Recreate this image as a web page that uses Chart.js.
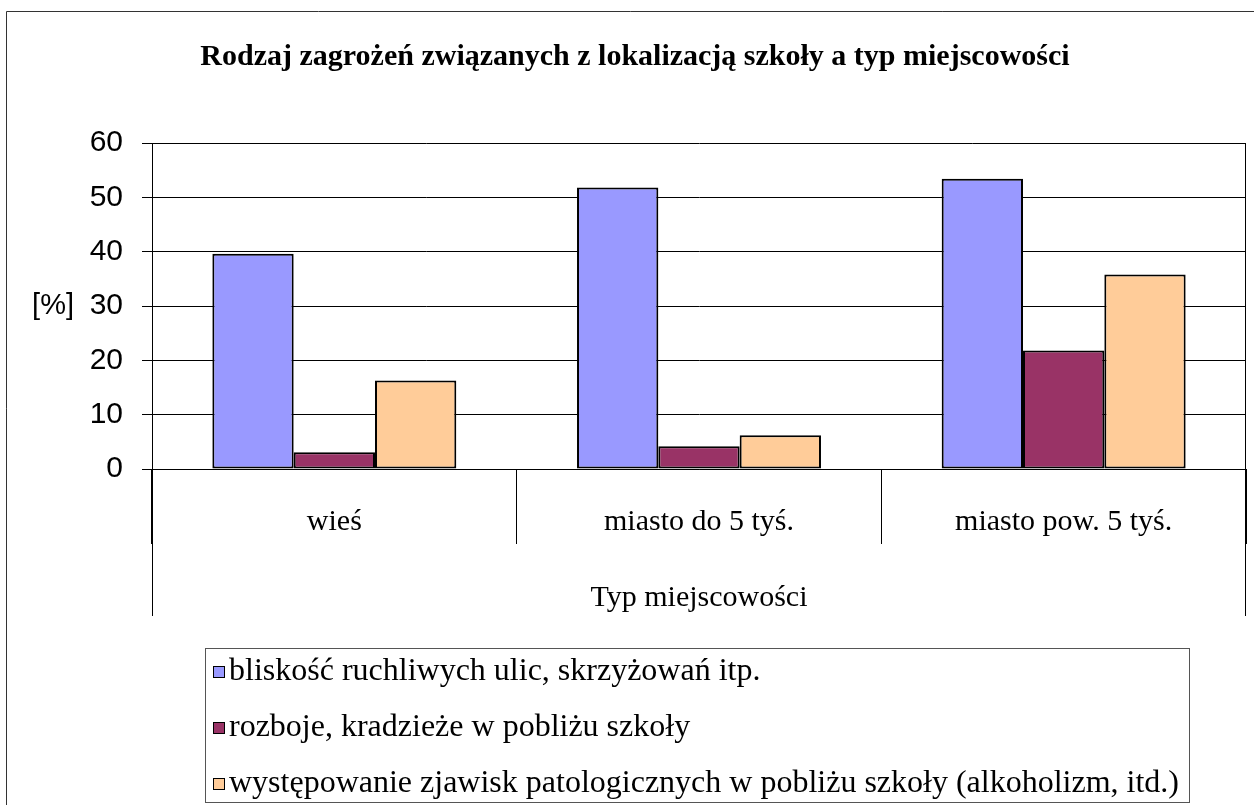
<!DOCTYPE html>
<html>
<head>
<meta charset="utf-8">
<script src="https://cdn.jsdelivr.net/npm/chart.js@4/dist/chart.umd.min.js"></script>
<style>
  body { margin: 0; background: #fff; }
  #wrap { position: relative; width: 1254px; height: 805px; background: #fff; }
  #legend {
    position: absolute; left: 205px; top: 648px; width: 985px; height: 155px;
    box-sizing: border-box; border: 1px solid #555; padding-left: 7px;
    font: 32px "Liberation Serif", serif; color: #000;
  }
  #legend .item { height: 56px; display: flex; align-items: center; white-space: nowrap; }
  #legend .item:first-child { margin-top: -8px; }
  #legend .swatch {
    display: inline-block; width: 10px; height: 10px; border: 1.5px solid #000;
    margin-right: 4px; transform: translateY(3px);
  }
</style>
</head>
<body>
<div id="wrap">
  <canvas id="chart"></canvas>
  <div id="legend"></div>
</div>
<script>
const categories = ["wieś", "miasto do 5 tyś.", "miasto pow. 5 tyś."];
const seriesNames = [
  "bliskość ruchliwych ulic, skrzyżowań itp.",
  "rozboje, kradzieże w pobliżu szkoły",
  "występowanie zjawisk patologicznych w pobliżu szkoły (alkoholizm, itd.)"
];
const streets = [39.6, 51.8, 53.4];
const robberies = [3.1, 4.2, 21.8];
const pathologies = [16.3, 6.2, 35.8];
const yTicks = [0, 10, 20, 30, 40, 50, 60];
const colors = ["#9999ff", "#993366", "#ffcc99"];

const serif = "Liberation Serif";
const sans = "Liberation Sans";

/*
 EXTRA LINES + [%] LABEL
*/
const framePlugin = {
  id: "frame",
  beforeDraw(chart) {
    const ctx = chart.ctx;
    ctx.save();
    ctx.fillStyle = "#fff";
    ctx.fillRect(0, 0, chart.width, chart.height);
    ctx.strokeStyle = "#333";
    ctx.lineWidth = 1;
    ctx.beginPath();
    ctx.moveTo(6.5, chart.height);
    ctx.lineTo(6.5, 11.5);
    ctx.lineTo(chart.width, 11.5);
    ctx.stroke();
    ctx.restore();
  },
  afterDraw(chart) {
    const { ctx, chartArea } = chart;
    const x = chart.scales.x;
    const y = chart.scales.y;
    const left = Math.round(chartArea.left) + 0.5;
    const right = Math.round(chartArea.right) - 0.5;
    ctx.save();
    ctx.strokeStyle = "#000";
    ctx.lineWidth = 1;
    ctx.beginPath();
    ctx.moveTo(left, chartArea.bottom);
    ctx.lineTo(left, x.bottom);
    ctx.moveTo(right, chartArea.top);
    ctx.lineTo(right, x.bottom);
    ctx.stroke();

    ctx.fillStyle = "#000";
    ctx.font = `29px "${sans}"`;
    ctx.textAlign = "right";
    ctx.textBaseline = "middle";
    ctx.fillText("[%]", 74, y.getPixelForValue(30));
    ctx.restore();
  }
};

Chart.defaults.color = "#000";

const chart = new Chart(document.getElementById("chart"), {
  type: "bar",
  data: {
    labels: categories,
    datasets: [
      { label: seriesNames[0], data: streets, backgroundColor: colors[0] },
      { label: seriesNames[1], data: robberies, backgroundColor: colors[1] },
      { label: seriesNames[2], data: pathologies, backgroundColor: colors[2] }
    ].map(ds => ({
      ...ds,
      borderColor: "#000",
      borderWidth: 2,
      borderSkipped: false,
      barPercentage: 1,
      categoryPercentage: 0.669
    }))
  },
  options: {
    responsive: true,
    maintainAspectRatio: false,
    animation: false,
    layout: {
      padding: { top: 12, right: 8, bottom: 189, left: 24 }
    },
    plugins: {
      legend: { display: false },
      tooltip: { enabled: false },
      title: {
        display: true,
        text: "Rodzaj zagrożeń związanych z lokalizacją szkoły a typ miejscowości",
        color: "#000",
        font: { family: serif, size: 30, weight: "bold" },
        padding: { top: 27, bottom: 68 }
      }
    },
    scales: {
      x: {
        afterFit(scale) {
          scale.height = 147;
        },
        grid: {
          offset: true,
          drawOnChartArea: false,
          tickLength: 75,
          color: "#000",
          tickColor: "#000"
        },
        border: { color: "#000" },
        ticks: {
          color: "#000",
          padding: -40,
          font: { family: serif, size: 30 }
        },
        title: {
          display: true,
          text: "Typ miejscowości",
          color: "#000",
          font: { family: serif, size: 30 },
          padding: { top: 40, bottom: 0 }
        }
      },
      y: {
        min: yTicks[0],
        max: yTicks[yTicks.length - 1],
        afterFit(scale) {
          scale.width = 128;
        },
        afterBuildTicks(scale) {
          scale.ticks = yTicks.map(v => ({ value: v }));
        },
        grid: {
          color: "#000",
          tickColor: "#000",
          tickLength: 10
        },
        border: { color: "#000" },
        ticks: {
          color: "#000",
          padding: 19,
          font: { family: sans, size: 30 }
        }
      }
    }
  },
  plugins: [framePlugin]
});

/*
 HTML LEGEND
*/
function buildLegend(chart) {
  const box = document.getElementById("legend");
  chart.data.datasets.forEach(ds => {
    const row = document.createElement("div");
    row.className = "item";
    const swatch = document.createElement("span");
    swatch.className = "swatch";
    swatch.style.background = ds.backgroundColor;
    const text = document.createElement("span");
    text.textContent = ds.label;
    row.append(swatch, text);
    box.append(row);
  });
}

buildLegend(chart);
</script>
</body>
</html>
